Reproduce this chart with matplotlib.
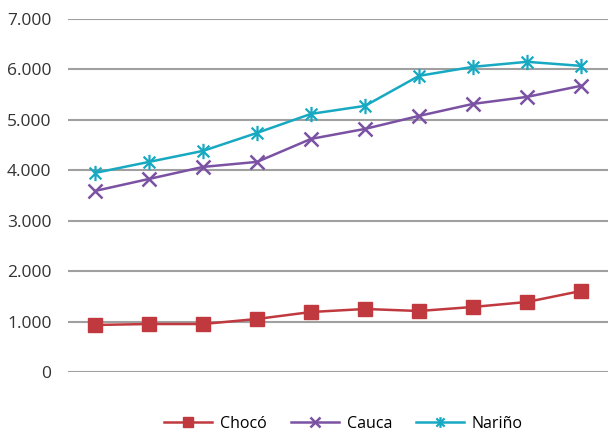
import numpy as np
import matplotlib.pyplot as plt
from matplotlib.path import Path

plt.rcParams['font.family'] = ['Open Sans', 'DejaVu Sans']

# valores
anios = list(range(10))
choco = [933, 952, 952, 1052, 1190, 1250, 1210, 1290, 1389, 1607]
cauca = [3591, 3829, 4067, 4167, 4623, 4821, 5079, 5317, 5456, 5675]
narino = [3948, 4167, 4385, 4742, 5119, 5278, 5873, 6052, 6151, 6071]
yticks = [0, 1000, 2000, 3000, 4000, 5000, 6000, 7000]
ylabels = ['0', '1.000', '2.000', '3.000', '4.000', '5.000', '6.000', '7.000']

# marcador estrella tipo excel (x + linea vertical)
star = Path([(-1, -1), (1, 1), (-1, 1), (1, -1), (0, -1.3), (0, 1.3)],
            [Path.MOVETO, Path.LINETO, Path.MOVETO, Path.LINETO, Path.MOVETO, Path.LINETO])

fig = plt.figure(figsize=(6.08, 4.37), dpi=100)
ax = fig.add_axes([0.112, 0.1487, 0.888, 0.8078])

ax.plot(anios, choco, color='#C0393F', lw=1.8, marker='s', ms=9.5, label='Chocó')
ax.plot(anios, cauca, color='#7B52A3', lw=1.8, marker='x', ms=10, mew=1.8, label='Cauca')
ax.plot(anios, narino, color='#17A9C1', lw=1.8, marker=star, ms=11, mew=1.6, label='Nariño')

ax.set_xlim(-0.5, 9.5)
ax.set_ylim(0, 7000)
ax.set_yticks(yticks)
ax.set_yticklabels(ylabels, fontsize=12.5, color='#333333')
ax.set_xticks([])
ax.tick_params(axis='y', length=0, pad=12)
for s in ax.spines.values():
    s.set_visible(False)
ax.grid(axis='y', color='#A0A0A0', lw=1.5)
ax.set_axisbelow(True)

ax.legend(loc='upper center', bbox_to_anchor=(0.51, -0.093), ncol=3, frameon=False,
          fontsize=11.5, handlelength=3.0, columnspacing=1.5, handletextpad=0.5,
          markerscale=0.7, borderpad=0.2)

fig.savefig('out.png', dpi=100)
